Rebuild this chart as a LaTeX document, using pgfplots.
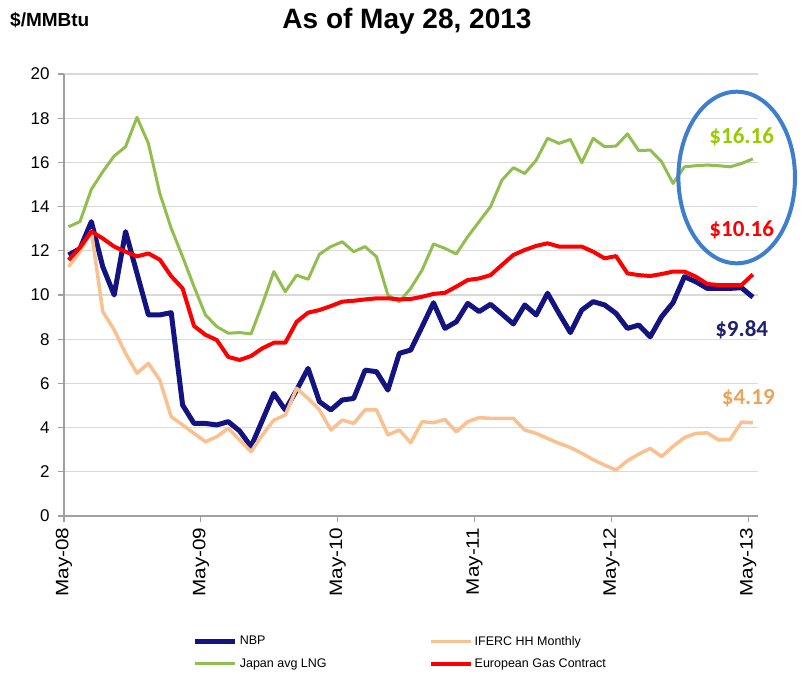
\documentclass[border=0pt]{standalone}
\usepackage{fontspec}
\setmainfont{Liberation Sans}
\newfontfamily\calib{Carlito}
\newfontfamily\xtf[FakeStretch=1.15]{Liberation Sans}
\usepackage{pgfplots}
\usepackage{pgfplotstable}
\pgfplotsset{compat=1.18}
\definecolor{nbpc}{RGB}{20,20,128}
\definecolor{ifercc}{RGB}{250,192,144}
\definecolor{jlngc}{RGB}{146,190,80}
\definecolor{egcc}{RGB}{255,0,0}
\definecolor{axisgray}{RGB}{160,160,160}
\definecolor{gridgray}{RGB}{217,217,217}
\definecolor{ellblue}{RGB}{62,126,204}
\definecolor{txtgreen}{RGB}{153,204,0}
\definecolor{txtorange}{RGB}{235,165,90}
\definecolor{txtnavy}{RGB}{31,31,112}
\pgfplotstableread{
m nbp iferc jlng egc
0 11.81 11.28 13.09 11.58
1 12.10 11.96 13.32 12.15
2 13.32 12.90 14.78 12.87
3 11.28 9.25 15.58 12.56
4 10.00 8.42 16.29 12.19
5 12.87 7.36 16.71 11.96
6 10.98 6.46 18.04 11.75
7 9.10 6.91 16.86 11.88
8 9.10 6.15 14.60 11.60
9 9.20 4.49 13.02 10.85
10 5.02 4.12 11.73 10.30
11 4.19 3.74 10.38 8.60
12 4.19 3.36 9.10 8.20
13 4.12 3.59 8.57 7.96
14 4.27 3.97 8.27 7.20
15 3.85 3.44 8.30 7.06
16 3.14 2.91 8.24 7.24
17 4.34 3.67 9.60 7.59
18 5.55 4.34 11.06 7.84
19 4.80 4.57 10.15 7.84
20 5.70 5.78 10.90 8.79
21 6.68 5.32 10.71 9.20
22 5.17 4.80 11.85 9.32
23 4.80 3.89 12.19 9.50
24 5.25 4.34 12.41 9.70
25 5.32 4.19 11.96 9.74
26 6.60 4.80 12.19 9.80
27 6.53 4.80 11.73 9.85
28 5.70 3.67 10.00 9.85
29 7.36 3.89 9.70 9.80
30 7.51 3.32 10.30 9.82
31 8.57 4.27 11.13 9.92
32 9.65 4.22 12.31 10.05
33 8.49 4.37 12.11 10.10
34 8.79 3.81 11.86 10.38
35 9.62 4.27 12.64 10.68
36 9.25 4.45 13.32 10.75
37 9.58 4.42 14.00 10.90
38 9.14 4.42 15.20 11.36
39 8.69 4.42 15.76 11.81
40 9.55 3.89 15.50 12.04
41 9.10 3.74 16.10 12.22
42 10.08 3.51 17.09 12.34
43 9.17 3.29 16.86 12.19
44 8.30 3.10 17.04 12.19
45 9.32 2.84 15.99 12.19
46 9.70 2.55 17.09 11.96
47 9.55 2.30 16.71 11.66
48 9.17 2.08 16.74 11.76
49 8.49 2.50 17.29 10.98
50 8.64 2.80 16.53 10.90
51 8.11 3.06 16.56 10.86
52 9.02 2.69 16.03 10.95
53 9.65 3.15 15.05 11.06
54 10.83 3.55 15.80 11.06
55 10.60 3.74 15.85 10.83
56 10.30 3.76 15.88 10.50
57 10.30 3.44 15.85 10.45
58 10.30 3.46 15.80 10.45
59 10.33 4.25 15.95 10.45
60 9.90 4.22 16.16 10.93
}\prices
\begin{document}
\begin{tikzpicture}
\useasboundingbox (0pt,0pt) rectangle (804pt,-673pt);
\begin{axis}[
  at={(64pt,-516pt)}, anchor=south west,
  scale only axis, width=694pt, height=442pt,
  xmin=-0.4, xmax=60.45, ymin=0, ymax=20,
  ytick={0,2,...,20},
  xtick={-0.4,11.6,23.6,35.6,47.6,59.6},
  xticklabels={May-08,May-09,May-10,May-11,May-12,May-13},
  axis lines*=left,
  x axis line style={draw=axisgray, line width=2.2pt},
  y axis line style={draw=axisgray, line width=1.3pt},
  tick align=outside, major tick length=6pt,
  tick style={draw=axisgray, line width=1.1pt},
  ymajorgrids, grid style={draw=gridgray, line width=1.2pt},
  /pgf/number format/assume math mode=true,
  yticklabel style={font=\fontsize{17}{17}\selectfont, xshift=-5pt},
  xticklabel style={rotate=90, anchor=east, font=\xtf\fontsize{18}{18}\selectfont, xshift=-2pt},
  clip=false,
  legend columns=2,
  legend cell align=left,
  legend image code/.code={\draw[#1] (0pt,0pt) -- (40pt,0pt);},
  legend style={at={(0.181,-0.262)}, anchor=north west, draw=none, fill=none,
    font=\fontsize{12.5}{14}\selectfont, row sep=8pt,
    /tikz/every even column/.append style={column sep=100pt}},
  every axis plot/.append style={line join=round},
]
\addplot[nbpc, line width=5pt] table[x=m, y=nbp] {\prices};
\addlegendentry{NBP}
\addplot[ifercc, line width=3.5pt] table[x=m, y=iferc] {\prices};
\addlegendentry{IFERC HH Monthly}
\addplot[jlngc, line width=3pt] table[x=m, y=jlng] {\prices};
\addlegendentry{Japan avg LNG}
\addplot[egcc, line width=4pt] table[x=m, y=egc] {\prices};
\addlegendentry{European Gas Contract}
\end{axis}
\draw[ellblue, line width=4pt] (736.7pt,-177.5pt) ellipse [x radius=58.3pt, y radius=85.8pt];
\node[text=txtgreen, font=\calib\bfseries\fontsize{23}{23}\selectfont] at (741.7pt,-136.7pt) {\$16.16};
\node[text=egcc, font=\calib\bfseries\fontsize{23}{23}\selectfont] at (741.7pt,-230pt) {\$10.16};
\node[text=txtnavy, font=\calib\bfseries\fontsize{23}{23}\selectfont] at (741.7pt,-330pt) {\$9.84};
\node[text=txtorange, font=\calib\bfseries\fontsize{23}{23}\selectfont] at (748.3pt,-398.3pt) {\$4.19};
\node[font=\bfseries\fontsize{28}{28}\selectfont] at (407pt,-21pt) {As of May 28, 2013};
\node[anchor=west, inner sep=0pt, font=\bfseries\fontsize{19}{19}\selectfont] at (10pt,-20pt) {\$/MMBtu};
\end{tikzpicture}
\end{document}
